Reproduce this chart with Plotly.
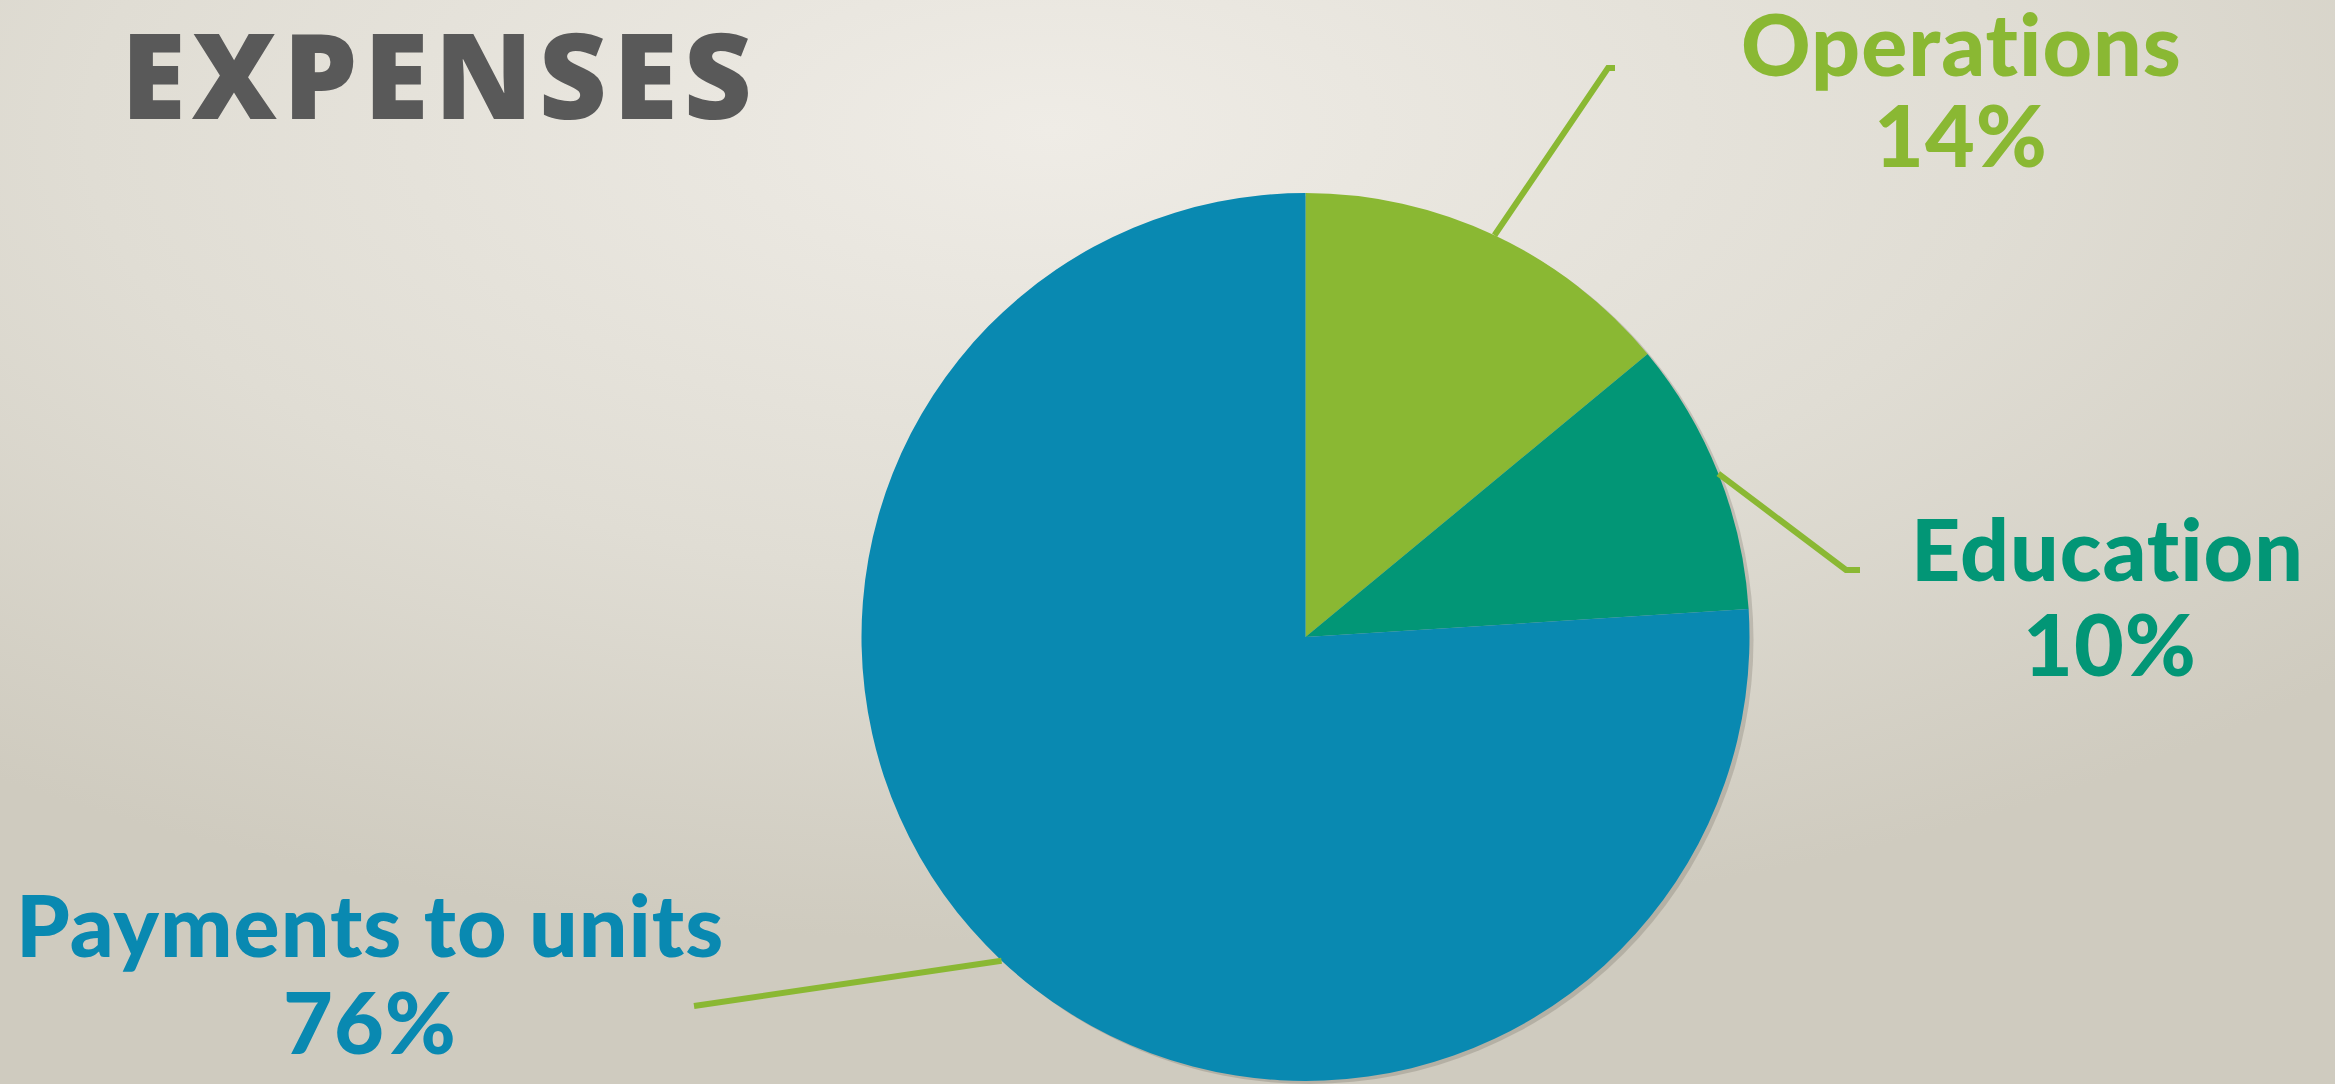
import math, base64
import plotly.graph_objects as go

# ---- data ----
labels = ["Operations", "Education", "Payments to units"]
values = [14, 10, 76]
colors = ["#8ab833", "#029676", "#0989b1"]
title_text = "EXPENSES"

# ---- layout geometry (pixels) ----
W, H = 2335, 1084
cx, cy, r = 1305.5, 637.0, 444.0   # pie center / radius (px, y from top)

def px(x):
    return x / W

def py(y):
    return 1 - y / H

# label positions (px): name center, percent center
label_pos = {
    "Operations": ((1961, 42), (1961, 133)),
    "Education": ((2107, 547), (2110, 642)),
    "Payments to units": ((370, 923), (370, 1020)),
}
# leader elbows (px)
leader_pts = {
    "Operations": [(1608, 68), (1615, 68)],
    "Education": [(1846, 570), (1860, 570)],
    "Payments to units": [(694, 1006)],
}

svg = f'''<svg xmlns="http://www.w3.org/2000/svg" width="{W}" height="{H}">
<defs><radialGradient id="g" cx="0.45" cy="0.12" r="0.75">
<stop offset="0" stop-color="#efece6"/><stop offset="0.55" stop-color="#e0ddd4"/><stop offset="1" stop-color="#cfcbbf"/>
</radialGradient></defs><rect width="{W}" height="{H}" fill="url(#g)"/></svg>'''
bg_src = "data:image/svg+xml;base64," + base64.b64encode(svg.encode()).decode()

def spaced(t, ls):
    return f'<span style="letter-spacing:{ls}px">{t}</span>'

fig = go.Figure()
# subtle drop shadow behind the pie
sdx, sdy = 4, 3
fig.add_trace(go.Pie(
    labels=["shadow"], values=[1], sort=False,
    marker=dict(colors=["rgba(60,55,45,0.18)"], line=dict(width=0)),
    textinfo="none", hoverinfo="skip", showlegend=False,
    domain=dict(x=[px(cx - r + sdx), px(cx + r + sdx)], y=[py(cy + r + sdy), py(cy - r + sdy)]),
))
fig.add_trace(go.Pie(
    labels=labels, values=values, sort=False, direction="clockwise", rotation=0,
    marker=dict(colors=colors, line=dict(width=0)),
    textinfo="none", hoverinfo="label+percent", showlegend=False,
    domain=dict(x=[px(cx - r), px(cx + r)], y=[py(cy + r), py(cy - r)]),
))

total = sum(values)
cum = 0
shapes = []
annotations = []
for lab, val, col in zip(labels, values, colors):
    mid = (cum + val / 2) / total * 2 * math.pi
    cum += val
    sx = cx + r * math.sin(mid)
    sy = cy - r * math.cos(mid)
    pts = [(sx, sy)] + leader_pts[lab]
    path = "M " + " L ".join(f"{px(x):.5f},{py(y):.5f}" for x, y in pts)
    shapes.append(dict(type="path", xref="paper", yref="paper", path=path,
                       line=dict(color="#8ab833", width=6)))
    (nx, ny), (qx, qy) = label_pos[lab]
    pct = round(val / total * 100)
    for txt, (x, y) in ((lab, (nx, ny)), (f"{pct}%", (qx, qy))):
        annotations.append(dict(text=spaced(txt, 1), x=px(x), y=py(y), xref="paper", yref="paper",
                                xanchor="center", yanchor="middle", showarrow=False,
                                font=dict(family="Lato", size=86, color=col, weight=900)))

annotations.append(dict(text=spaced(title_text, 6), x=px(439), y=py(74), xref="paper", yref="paper",
                        xanchor="center", yanchor="middle", showarrow=False,
                        font=dict(family="Open Sans", size=118, color="#595959", weight=800)))

fig.update_layout(
    width=W, height=H, margin=dict(l=0, r=0, t=0, b=0),
    paper_bgcolor="#dedad1", plot_bgcolor="rgba(0,0,0,0)",
    shapes=shapes, annotations=annotations,
    images=[dict(source=bg_src, xref="paper", yref="paper", x=0, y=1, sizex=1, sizey=1,
                 xanchor="left", yanchor="top", sizing="stretch", layer="below")],
)
fig.write_html("out.html")
